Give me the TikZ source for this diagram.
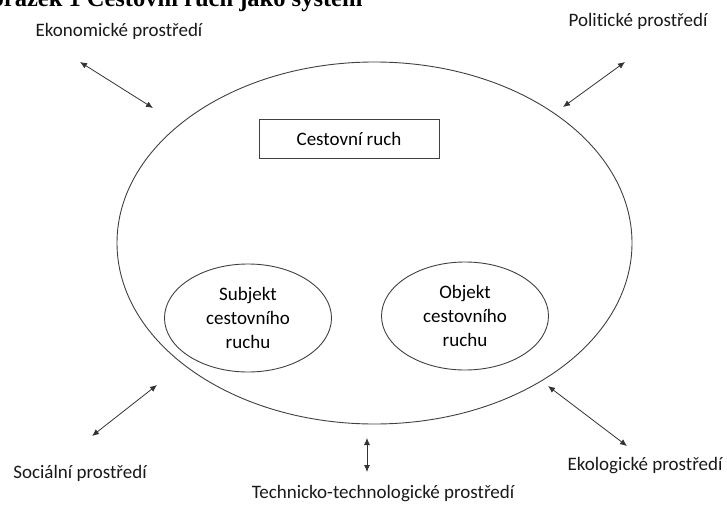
\documentclass[tikz,border=0pt]{standalone}
\usepackage{fontspec}
\setmainfont{Carlito}[Ligatures={NoCommon}]
\newfontfamily\titlefont{Liberation Serif}
\usetikzlibrary{shapes.geometric, arrows.meta}

\begin{document}
\begin{tikzpicture}[x=1pt, y=-1pt, font=\fontsize{19}{24}\selectfont,
    sys/.style = {draw=black!75, ellipse, line width=0.9pt},
    part/.style = {draw=black!75, ellipse, line width=0.9pt, minimum width=167pt, minimum height=108pt, align=center, inner sep=0pt},
    env/.style = {text=black!90, inner sep=0pt},
    link/.style = {<->, >={Latex[length=7pt, width=6pt]}, line width=0.8pt, black!80}]
    \useasboundingbox (0,0) rectangle (727,505);
    \clip (0,0) rectangle (727,505);

    \node[anchor=base west, inner sep=0pt, font=\titlefont\bfseries\fontsize{24.5}{28}\selectfont] (title) at (-29,7) {Obrázek 1 Cestovní ruch jako systém};

    \node[sys, minimum width=515pt, minimum height=362pt] (sys) at (374.5,243) {};
    \node[draw=black!75, line width=0.9pt, minimum width=180pt, minimum height=39pt] (cr) at (349,138.5) {Cestovní ruch};
    \node[part] (subj) at (248,318) {Subjekt\\cestovního\\ruchu};
    \node[part] (obj) at (465,316) {Objekt\\cestovního\\ruchu};

    \node[env] (eko) at (119,31) {Ekonomické prostředí};
    \node[env] (pol) at (638,21) {Politické prostředí};
    \node[env] (soc) at (80,473) {Sociální prostředí};
    \node[env] (ekol) at (645,466) {Ekologické prostředí};
    \node[env] (tech) at (383,494) {Technicko-technologické prostředí};

    \coordinate (eko1) at (80,62);
    \coordinate (eko2) at (153,108);
    \coordinate (pol1) at (625,62);
    \coordinate (pol2) at (563,107);
    \coordinate (soc1) at (92,436);
    \coordinate (soc2) at (157,385);
    \coordinate (ekol1) at (627,446);
    \coordinate (ekol2) at (548,386);
    \coordinate (tech1) at (367,472);
    \coordinate (tech2) at (367,438);

    \draw[link] (eko1) -- (eko2);

    \draw[link] (pol1) -- (pol2);

    \draw[link] (soc1) -- (soc2);

    \draw[link] (ekol1) -- (ekol2);

    \draw[link] (tech1) -- (tech2);

\end{tikzpicture}
\end{document}
